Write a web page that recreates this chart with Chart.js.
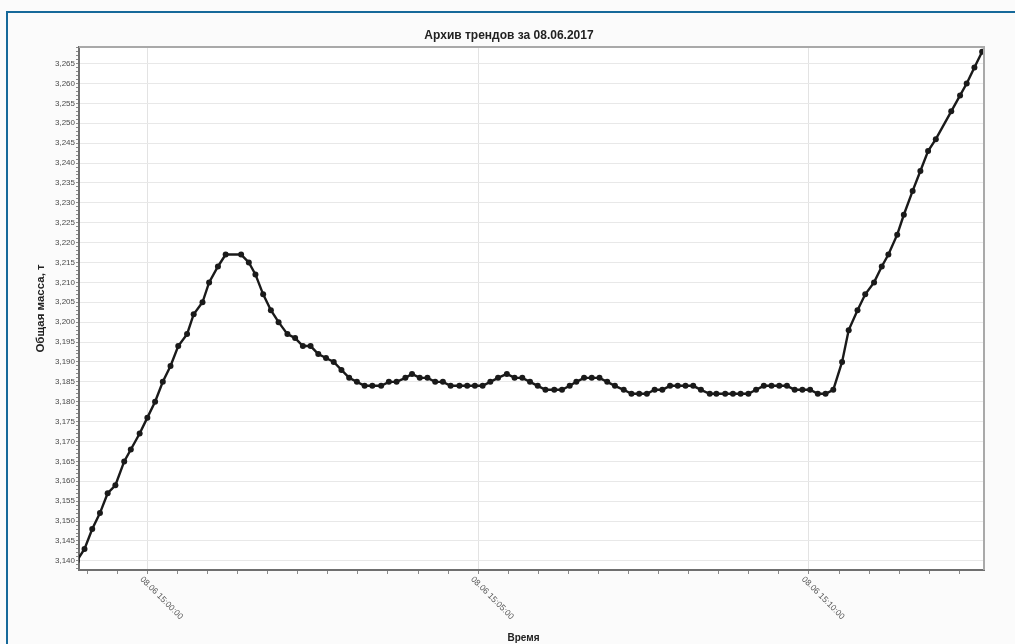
<!DOCTYPE html>
<html>
<head>
<meta charset="utf-8">
<script src="https://cdn.jsdelivr.net/npm/chart.js@4.4.1/dist/chart.umd.min.js"></script>
<style>
  html, body { margin: 0; padding: 0; background: #fbfbfb; }
  #wrap { position: relative; width: 1015px; height: 644px; overflow: hidden; }
  #frame { position: absolute; left: 6px; top: 11px; right: -10px; bottom: -10px;
           border-top: 2px solid #16699a; border-left: 2px solid #16699a; pointer-events: none; }
</style>
</head>
<body>
<div id="wrap">
  <canvas id="trend"></canvas>
  <div id="frame"></div>
</div>
<script>
// seconds relative to 08.06.2017 15:00:00
const timeSec = [
  -64, -57, -50, -43, -36, -29, -21, -15, -7, 0,
  7, 14, 21, 28, 36, 42, 50, 56, 64, 71,
  85, 92, 98, 105, 112, 119, 127, 134, 141, 148,
  155, 162, 169, 176, 183, 190, 197, 204, 212, 219,
  226, 234, 240, 247, 254, 261, 268, 275, 283, 290,
  297, 304, 311, 318, 326, 333, 340, 347, 354, 361,
  369, 376, 383, 389, 396, 403, 410, 417, 424, 432,
  439, 446, 453, 460, 467, 474, 481, 488, 495, 502,
  510, 516, 524, 531, 538, 545, 552, 559, 566, 573,
  580, 587, 594, 601, 608, 615, 622, 630, 636, 644,
  651, 659, 666, 672, 680, 686, 694, 701, 708, 715,
  729, 737, 743, 750, 757
];

// total mass, t
const massT = [
  3.140, 3.143, 3.148, 3.152, 3.157, 3.159, 3.165, 3.168, 3.172, 3.176,
  3.180, 3.185, 3.189, 3.194, 3.197, 3.202, 3.205, 3.210, 3.214, 3.217,
  3.217, 3.215, 3.212, 3.207, 3.203, 3.200, 3.197, 3.196, 3.194, 3.194,
  3.192, 3.191, 3.190, 3.188, 3.186, 3.185, 3.184, 3.184, 3.184, 3.185,
  3.185, 3.186, 3.187, 3.186, 3.186, 3.185, 3.185, 3.184, 3.184, 3.184,
  3.184, 3.184, 3.185, 3.186, 3.187, 3.186, 3.186, 3.185, 3.184, 3.183,
  3.183, 3.183, 3.184, 3.185, 3.186, 3.186, 3.186, 3.185, 3.184, 3.183,
  3.182, 3.182, 3.182, 3.183, 3.183, 3.184, 3.184, 3.184, 3.184, 3.183,
  3.182, 3.182, 3.182, 3.182, 3.182, 3.182, 3.183, 3.184, 3.184, 3.184,
  3.184, 3.183, 3.183, 3.183, 3.182, 3.182, 3.183, 3.190, 3.198, 3.203,
  3.207, 3.210, 3.214, 3.217, 3.222, 3.227, 3.233, 3.238, 3.243, 3.246,
  3.253, 3.257, 3.260, 3.264, 3.268
];

const xLabelValues = [0, 300, 600];
const xLabelTexts = ['08.06 15:00:00', '08.06 15:05:00', '08.06 15:10:00'];

const FONT = '"Liberation Sans", Arial, sans-serif';

function isMajorX(v) {
  const r = Math.round(v);
  return Math.abs(v - r) < 0.01 && r % 300 === 0;
}
function isMajorY(v) {
  return Math.round(v * 1000) % 5 === 0;
}

const framePlugin = {
  id: 'framePlugin',
  beforeDraw(chart) {
    const { ctx, chartArea: a } = chart;
    ctx.save();
    ctx.fillStyle = '#ffffff';
    ctx.fillRect(a.left, a.top, a.width, a.height);
    ctx.restore();
  },
  afterDraw(chart) {
    const { ctx, chartArea: a, scales: { x } } = chart;
    ctx.save();
    ctx.strokeStyle = '#a9a9a9';
    ctx.lineWidth = 2;
    ctx.beginPath();
    ctx.moveTo(a.left, a.top);
    ctx.lineTo(a.right, a.top);
    ctx.lineTo(a.right, a.bottom);
    ctx.stroke();

    // rotated time labels
    ctx.fillStyle = '#555';
    ctx.font = '8.5px ' + FONT;
    ctx.textAlign = 'left';
    ctx.textBaseline = 'top';
    xLabelValues.forEach((v, i) => {
      const px = x.getPixelForValue(v);
      ctx.save();
      ctx.translate(px - 3, a.bottom + 5);
      ctx.rotate(Math.PI / 4);
      ctx.fillText(xLabelTexts[i], 0, 0);
      ctx.restore();
    });

    ctx.fillStyle = '#222';
    ctx.font = 'bold 10px ' + FONT;
    ctx.textAlign = 'center';
    ctx.textBaseline = 'middle';
    ctx.fillText('Время', (a.left + a.right) / 2 - 8, 638);
    ctx.restore();
  }
};

new Chart(document.getElementById('trend').getContext('2d'), {
  type: 'line',
  data: {
    datasets: [{
      label: 'Общая масса, т',
      data: timeSec.map((t, i) => ({ x: t, y: massT[i] })),
      borderColor: '#1a1a1a',
      backgroundColor: '#1a1a1a',
      borderWidth: 2.4,
      pointRadius: 3,
      pointBorderWidth: 0,
      tension: 0,
      fill: false
    }]
  },
  options: {
    responsive: true,
    maintainAspectRatio: false,
    animation: false,
    layout: { padding: { left: 34, right: 31, top: 0, bottom: 0 } },
    plugins: {
      legend: { display: false },
      tooltip: { enabled: false },
      title: {
        display: true,
        text: 'Архив трендов за 08.06.2017',
        color: '#222',
        font: { family: FONT, size: 12, weight: 'bold' },
        padding: { top: 28.5, bottom: 4 }
      }
    },
    scales: {
      x: {
        type: 'linear',
        min: -62,
        max: 758.7,
        afterBuildTicks: (s) => {
          const ticks = [];
          for (let k = -2; k <= 27; k++) ticks.push({ value: k * 300 / 11 });
          s.ticks = ticks;
        },
        afterFit: (s) => { s.height = 74; },
        ticks: { display: false },
        grid: {
          color: (c) => (c.tick && isMajorX(c.tick.value)) ? '#e3e3e3' : 'rgba(0,0,0,0)',
          tickColor: '#8a8a8a',
          tickLength: 4,
          lineWidth: 1
        },
        border: { color: '#6f6f6f', width: 2 }
      },
      y: {
        min: 3.1377,
        max: 3.2692,
        afterBuildTicks: (s) => {
          const ticks = [];
          for (let k = 3138; k <= 3269; k++) ticks.push({ value: k / 1000 });
          s.ticks = ticks;
        },
        afterFit: (s) => { s.width = 45; },
        ticks: {
          autoSkip: false,
          padding: 1,
          color: '#4a4a4a',
          font: { family: FONT, size: 8 },
          callback: (v) => isMajorY(v) ? v.toFixed(3).replace('.', ',') : ''
        },
        grid: {
          color: (c) => (c.tick && isMajorY(c.tick.value)) ? '#e8e8e8' : 'rgba(0,0,0,0)',
          tickColor: '#8a8a8a',
          tickLength: 3,
          lineWidth: 1
        },
        border: { color: '#6f6f6f', width: 2 },
        title: {
          display: true,
          text: 'Общая масса, т',
          color: '#222',
          font: { family: FONT, size: 11.5, weight: 'bold' },
          padding: { top: 0, bottom: 0 }
        }
      }
    }
  },
  plugins: [framePlugin]
});
</script>
</body>
</html>
